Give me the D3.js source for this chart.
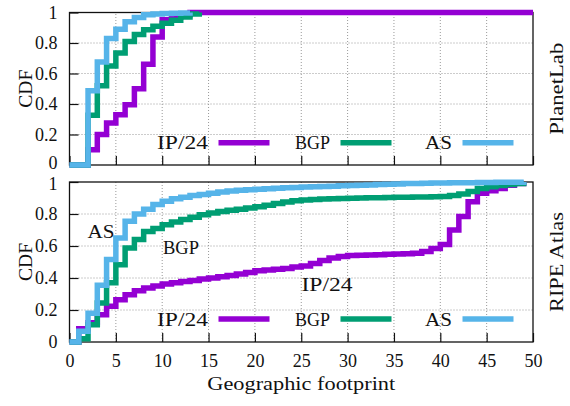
<!DOCTYPE html>
<html>
<head>
<meta charset="utf-8">
<script src="https://cdn.jsdelivr.net/npm/d3@7"></script>
<style>
  body { margin: 0; background: #fff; }
  text { font-family: "Liberation Serif", "DejaVu Serif", serif; fill: #111; }
  .grid line { stroke: #999; stroke-width: 1; stroke-dasharray: 1,2; }
</style>
</head>
<body>
<div id="chart"></div>
<script>
// Data
var xTicks = [0, 5, 10, 15, 20, 25, 30, 35, 40, 45, 50];
var yTicks = [0, 0.2, 0.4, 0.6, 0.8, 1];
var seriesNames = ["IP/24", "BGP", "AS"];
var seriesColors = ["#9400d3", "#009e73", "#56b4e9"];

// PlanetLab: [footprint, cdf]
var plIP24 = [[0,0],[2,0.1],[3,0.2],[4,0.275],[5,0.33],[6,0.395],[7,0.5],[8,0.66],[9,0.84],[10,0.953],[11,0.97],[12,0.985],[13,1],[50,1]];
var plBGP  = [[0,0],[2,0.326],[3,0.52],[4,0.65],[5,0.734],[6,0.81],[7,0.855],[8,0.887],[9,0.91],[10,0.93],[11,0.95],[12,0.97],[13,0.99],[14,1]];
var plAS   = [[0,0],[2,0.487],[3,0.675],[4,0.83],[5,0.89],[6,0.94],[7,0.968],[8,0.985],[9,0.99],[10,0.993],[11,0.995],[12,0.997],[13,1]];

// RIPE Atlas: cdf at footprint 0..49
var ripeIP24 = [0,0.083,0.12,0.17,0.223,0.264,0.296,0.32,0.337,0.35,0.363,0.37,0.378,0.385,0.393,0.4,0.408,0.416,0.425,0.435,
                0.445,0.45,0.455,0.46,0.468,0.475,0.49,0.51,0.525,0.535,0.54,0.542,0.544,0.546,0.548,0.55,0.552,0.555,0.565,0.585,
                0.61,0.7,0.785,0.877,0.93,0.945,0.96,0.98,0.99,1];
var ripeBGP  = [0,0.02,0.108,0.244,0.37,0.483,0.587,0.64,0.69,0.71,0.733,0.75,0.765,0.78,0.795,0.806,0.815,0.823,0.83,0.838,
                0.845,0.855,0.865,0.875,0.883,0.888,0.891,0.893,0.895,0.897,0.899,0.9,0.901,0.902,0.903,0.904,0.905,0.906,0.907,0.908,
                0.91,0.915,0.925,0.94,0.96,0.97,0.978,0.985,0.99,1];
var ripeAS   = [0,0.067,0.18,0.354,0.515,0.65,0.754,0.8,0.83,0.86,0.88,0.895,0.905,0.915,0.922,0.93,0.937,0.943,0.948,0.952,
                0.955,0.958,0.961,0.964,0.966,0.968,0.97,0.972,0.974,0.976,0.978,0.98,0.982,0.984,0.986,0.988,0.99,0.991,0.992,0.993,
                0.994,0.995,0.996,0.996,0.997,0.997,0.998,0.998,0.999,1];

function toPairs(arr) { return arr.map(function(v, i) { return [i, v]; }); }

// Layout
var W = 570, H = 406;
var left = 69.5, right = 533;
var panels = [
  {name: "PlanetLab",  nameLen: 92, top: 12.5, bottom: 165, series: [plIP24, plBGP, plAS], xLabels: false, legendY: 142.7, nudge: {0: -2.5}},
  {name: "RIPE Atlas", nameLen: 100, top: 182,  bottom: 342, series: [toPairs(ripeIP24), toPairs(ripeBGP), toPairs(ripeAS)], xLabels: true, legendY: 319, nudge: {1: 2}}
];

var svg = d3.select("#chart").append("svg")
    .attr("width", W)
    .attr("height", H);

var x = d3.scaleLinear().domain([0, 50]).range([left, right]);

panels.forEach(function(p) {
  var y = d3.scaleLinear().domain([0, 1]).range([p.bottom, p.top]);
  var g = svg.append("g");

  // grid
  var grid = g.append("g").attr("class", "grid");
  grid.selectAll(".vg")
    .data(xTicks.slice(1, -1))
    .enter().append("line")
      .attr("x1", function(d) { return x(d); })
      .attr("x2", function(d) { return x(d); })
      .attr("y1", p.bottom)
      .attr("y2", p.top);
  grid.selectAll(".hg")
    .data(yTicks.slice(1, -1))
    .enter().append("line")
      .attr("x1", left)
      .attr("x2", right)
      .attr("y1", function(d) { return y(d); })
      .attr("y2", function(d) { return y(d); });

  // axes (inward ticks, gnuplot style)
  var yAxis = d3.axisLeft(y).tickValues(yTicks).tickSize(-9).tickPadding(12)
      .tickFormat(function(d) { return d3.format("")(+d.toFixed(1)); });
  var yG = g.append("g").attr("transform", "translate(" + left + ",0)").call(yAxis);
  // the 0 / 1 labels of the two panels sit very close, push them apart a little
  yG.selectAll(".tick text")
    .attr("y", function(d) { return p.nudge[d] || 0; });
  var xAxis = d3.axisBottom(x).tickValues(xTicks).tickSize(-9).tickPadding(12);
  if (!p.xLabels) xAxis.tickFormat("");
  var xG = g.append("g").attr("transform", "translate(0," + p.bottom + ")").call(xAxis);
  [yG, xG].forEach(function(a) {
    a.select(".domain").remove();
    a.selectAll(".tick line").attr("stroke", "#111").attr("stroke-width", 1.2);
    a.selectAll("text").style("font-family", "Liberation Serif").style("font-size", "18px").attr("fill", "#111");
  });

  // frame
  g.append("rect")
    .attr("x", left).attr("y", p.top)
    .attr("width", right - left).attr("height", p.bottom - p.top)
    .attr("fill", "none").attr("stroke", "#111").attr("stroke-width", 1.3);

  // step curves
  var line = d3.line()
      .curve(d3.curveStepAfter)
      .x(function(d) { return x(d[0]); })
      .y(function(d) { return y(d[1]); });
  g.selectAll(".cdf")
    .data(p.series)
    .enter().append("path")
      .attr("class", "cdf")
      .attr("d", line)
      .attr("fill", "none")
      .attr("stroke", function(d, i) { return seriesColors[i]; })
      .attr("stroke-width", 5.5);

  // legend
  var legX = [208, 330, 452];
  var legLen = [51, 35, 27];
  seriesNames.forEach(function(n, i) {
    g.append("text")
      .attr("x", legX[i]).attr("y", p.legendY + 6.5)
      .attr("text-anchor", "end")
      .attr("textLength", legLen[i]).attr("lengthAdjust", "spacingAndGlyphs")
      .style("font-size", "19px")
      .text(n);
    g.append("line")
      .attr("x1", legX[i] + 10.5).attr("x2", legX[i] + 61.5)
      .attr("y1", p.legendY).attr("y2", p.legendY)
      .attr("stroke", seriesColors[i]).attr("stroke-width", 5.5);
  });

  // CDF label and panel name
  var cy = (p.top + p.bottom) / 2;
  g.append("text")
    .attr("transform", "translate(25," + cy + ") rotate(-90)")
    .attr("text-anchor", "middle").attr("dominant-baseline", "central")
    .attr("textLength", 38).attr("lengthAdjust", "spacingAndGlyphs")
    .style("font-size", "19px")
    .text("CDF");
  g.append("text")
    .attr("transform", "translate(556," + cy + ") rotate(-90)")
    .attr("text-anchor", "middle").attr("dominant-baseline", "central")
    .attr("textLength", p.nameLen).attr("lengthAdjust", "spacingAndGlyphs")
    .style("font-size", "19px")
    .text(p.name);
});

// labels on the RIPE curves
var curveLabels = [["AS", 101, 238, 27], ["BGP", 181, 254, 36], ["IP/24", 327, 291, 51]];
svg.selectAll(".clabel")
  .data(curveLabels)
  .enter().append("text")
    .attr("class", "clabel")
    .attr("x", function(d) { return d[1]; })
    .attr("y", function(d) { return d[2]; })
    .attr("text-anchor", "middle")
    .attr("textLength", function(d) { return d[3]; })
    .attr("lengthAdjust", "spacingAndGlyphs")
    .style("font-size", "19px")
    .text(function(d) { return d[0]; });

// x axis title
svg.append("text")
  .attr("x", (left + right) / 2).attr("y", 390)
  .attr("text-anchor", "middle")
  .attr("textLength", 188).attr("lengthAdjust", "spacingAndGlyphs")
  .style("font-size", "19px")
  .text("Geographic footprint");
</script>
</body>
</html>
